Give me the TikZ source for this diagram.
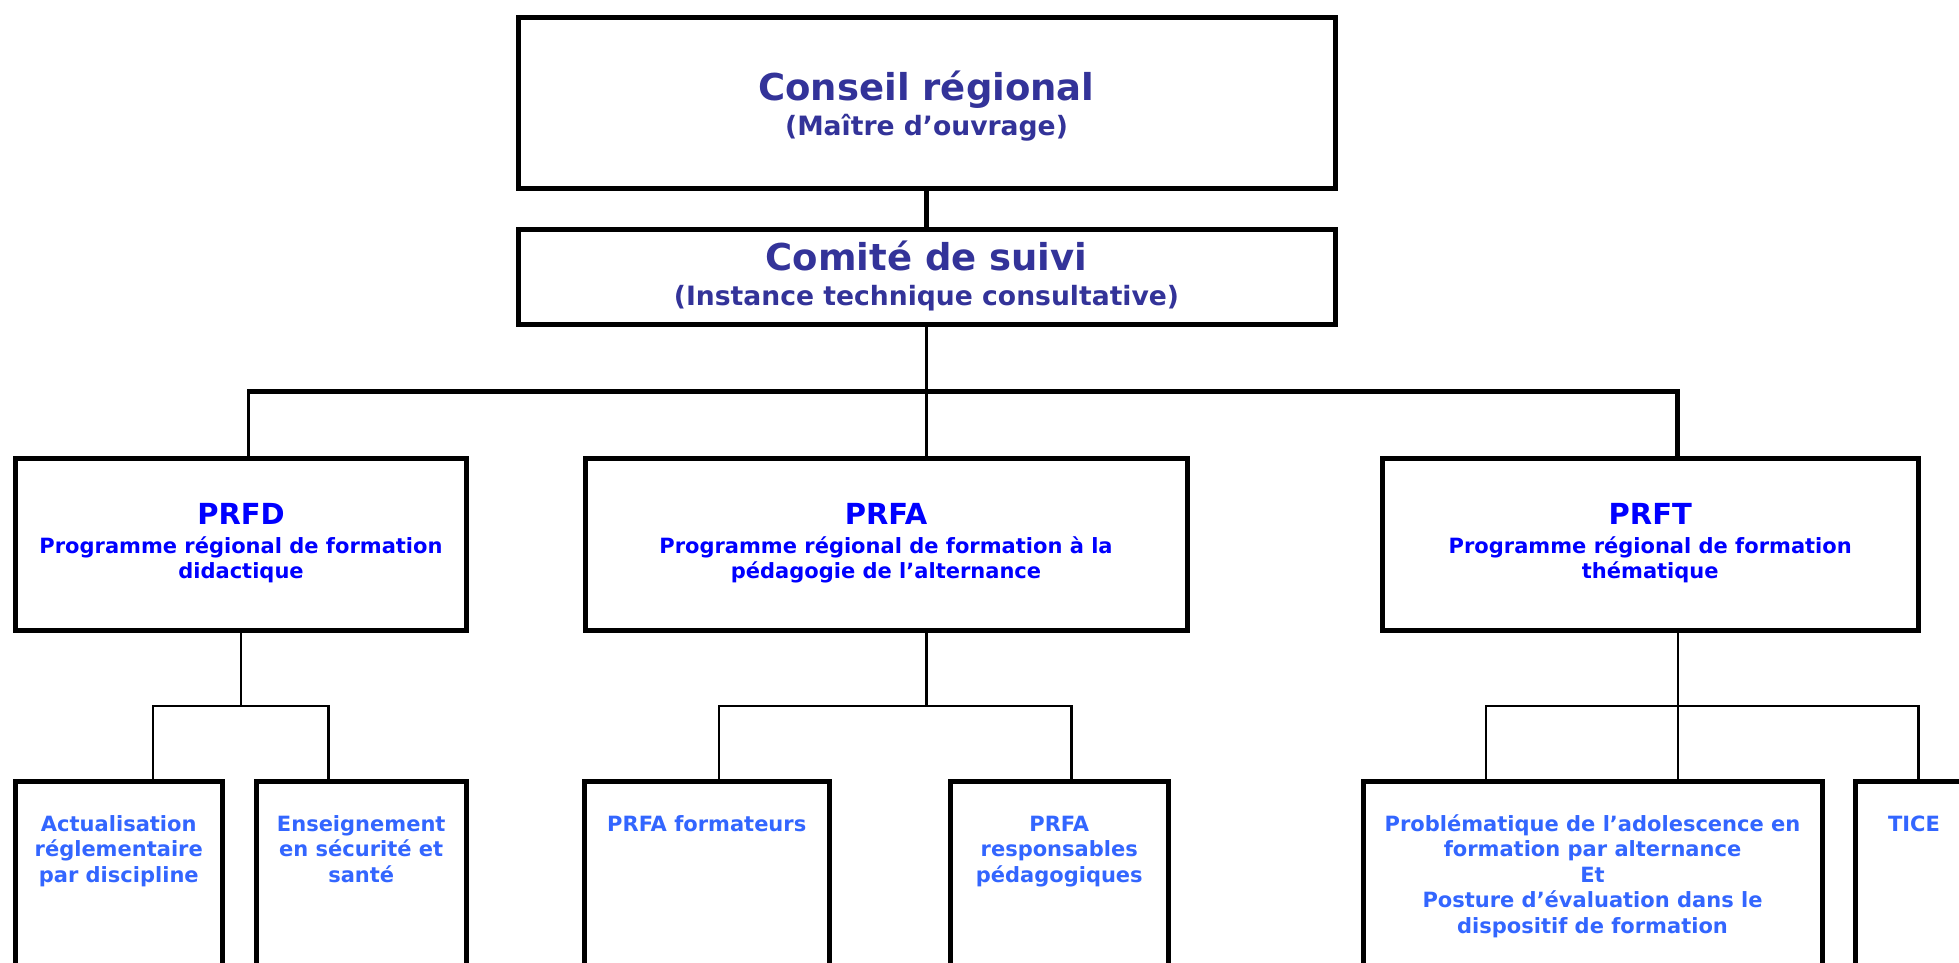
\documentclass[tikz,border=0pt]{standalone}
\usepackage{fontspec}
\setmainfont{DejaVu Sans}
\definecolor{darkb}{HTML}{333399}
\definecolor{pureb}{HTML}{0000FF}
\definecolor{leafb}{HTML}{3366FF}
\newcommand{\mystrut}{\rule{0pt}{1em}}
\tikzset{
  box/.style={draw, line width=5pt, rectangle, inner sep=0pt, outer sep=0pt},
  txt/.style={inner sep=0pt, outer sep=0pt, align=center},
  toptitle/.style={txt, anchor=base, text=darkb, font={\fontsize{37}{44}\selectfont\bfseries}},
  topsub/.style={txt, anchor=base, text=darkb, font={\fontsize{26.6}{31}\selectfont\bfseries}},
  prftitle/.style={txt, anchor=base, text=pureb, font={\fontsize{29}{34}\selectfont\bfseries}},
  prfsub/.style={txt, anchor=north, text=pureb, font={\fontsize{21}{25}\selectfont\bfseries}},
  leaftxt/.style={txt, anchor=north, text=leafb, font={\fontsize{21}{25.5}\selectfont\bfseries}},
  thickc/.style={line width=4.8pt},
  midc/.style={line width=2.7pt},
  thinc/.style={line width=2.1pt},
  subc/.style={line width=2.3pt},
}
\begin{document}
\begin{tikzpicture}[x=1pt,y=-1pt]
\useasboundingbox (0,0) rectangle (1959,962);
\clip (0,0) rectangle (1959,962);
\fill[white] (0,0) rectangle (1959,962);

% boxes
\node[box, minimum width=817pt, minimum height=171pt] (conseil) at (926.5,103) {};
\node[box, minimum width=817pt, minimum height=94.5pt] (comite) at (926.5,276.75) {};
\node[box, minimum width=451pt, minimum height=172.5pt] (prfd) at (241,544.25) {};
\node[box, minimum width=602pt, minimum height=172.5pt] (prfa) at (886,544.25) {};
\node[box, minimum width=535.5pt, minimum height=172.5pt] (prft) at (1650.25,544.25) {};
\node[box, minimum width=206.5pt, minimum height=238.5pt] (act) at (118.75,900.75) {};
\node[box, minimum width=210.5pt, minimum height=238.5pt] (ens) at (361.25,900.75) {};
\node[box, minimum width=244.5pt, minimum height=238.5pt] (frm) at (706.75,900.75) {};
\node[box, minimum width=217.5pt, minimum height=238.5pt] (resp) at (1059.25,900.75) {};
\node[box, minimum width=459pt, minimum height=238.5pt] (prob) at (1592.5,900.75) {};
\node[box, minimum width=118pt, minimum height=238.5pt] (tice) at (1914,900.75) {};

% texts
\node[toptitle] (conseilT) at (926.5,100) {Conseil régional};
\node[topsub] (conseilS) at (926.5,135) {(Maître d’ouvrage)};
\node[toptitle] (comiteT) at (926.5,270) {Comité de suivi};
\node[topsub] (comiteS) at (926.5,305) {(Instance technique consultative)};

\node[prftitle] (prfdT) at (241,524) {PRFD};
\node[prfsub] (prfdS) at (241,532) {\mystrut Programme régional de formation\\didactique};
\node[prftitle] (prfaT) at (886,524) {PRFA};
\node[prfsub] (prfaS) at (886,532) {\mystrut Programme régional de formation à la\\pédagogie de l’alternance};
\node[prftitle] (prftT) at (1650.25,524) {PRFT};
\node[prfsub] (prftS) at (1650.25,532) {\mystrut Programme régional de formation\\thématique};

\node[leaftxt] (actT) at (118.75,810) {\mystrut Actualisation\\réglementaire\\par discipline};
\node[leaftxt] (ensT) at (361.25,810) {\mystrut Enseignement\\en sécurité et\\santé};
\node[leaftxt] (frmT) at (706.75,810) {\mystrut PRFA formateurs};
\node[leaftxt] (respT) at (1059.25,810) {\mystrut PRFA\\responsables\\pédagogiques};
\node[leaftxt] (probT) at (1592.5,810) {\mystrut Problématique de l’adolescence en\\formation par alternance\\Et\\Posture d’évaluation dans le\\dispositif de formation};
\node[leaftxt] (ticeT) at (1914,810) {\mystrut TICE};

% connectors, top
\draw[thickc] (conseil.south) -- (comite.north);
\coordinate (bus) at (926.5,391.5);
\coordinate (busL) at (248.5,391.5);
\coordinate (busR) at (1677.5,391.5);
\draw[thinc] (comite.south) -- (bus);
\draw[thickc] ([xshift=-1.35pt]busL) -- (busR) -- (busR |- prft.north);
\draw[midc] (busL) -- (busL |- prfd.north);
\draw[thinc] (bus) -- (bus |- prfa.north);

% connectors, PRFD
\coordinate (dC) at (241,706);
\coordinate (d1) at (153,706);
\coordinate (d2) at (328.5,706);
\draw[subc] (prfd.south) -- (dC);
\draw[subc] (d1 |- act.north) -- (d1) -- (d2) -- (d2 |- ens.north);

% connectors, PRFA
\coordinate (aC) at (926.5,706);
\coordinate (a1) at (719,706);
\coordinate (a2) at (1071.5,706);
\draw[subc] (aC |- prfa.south) -- (aC);
\draw[subc] (a1 |- frm.north) -- (a1) -- (a2) -- (a2 |- resp.north);

% connectors, PRFT
\coordinate (tC) at (1678,706);
\coordinate (t1) at (1486,706);
\coordinate (t2) at (1918.5,706);
\draw[subc] (tC |- prft.south) -- (tC |- prob.north);
\draw[subc] (t1 |- prob.north) -- (t1) -- (t2) -- (t2 |- tice.north);
\end{tikzpicture}
\end{document}
